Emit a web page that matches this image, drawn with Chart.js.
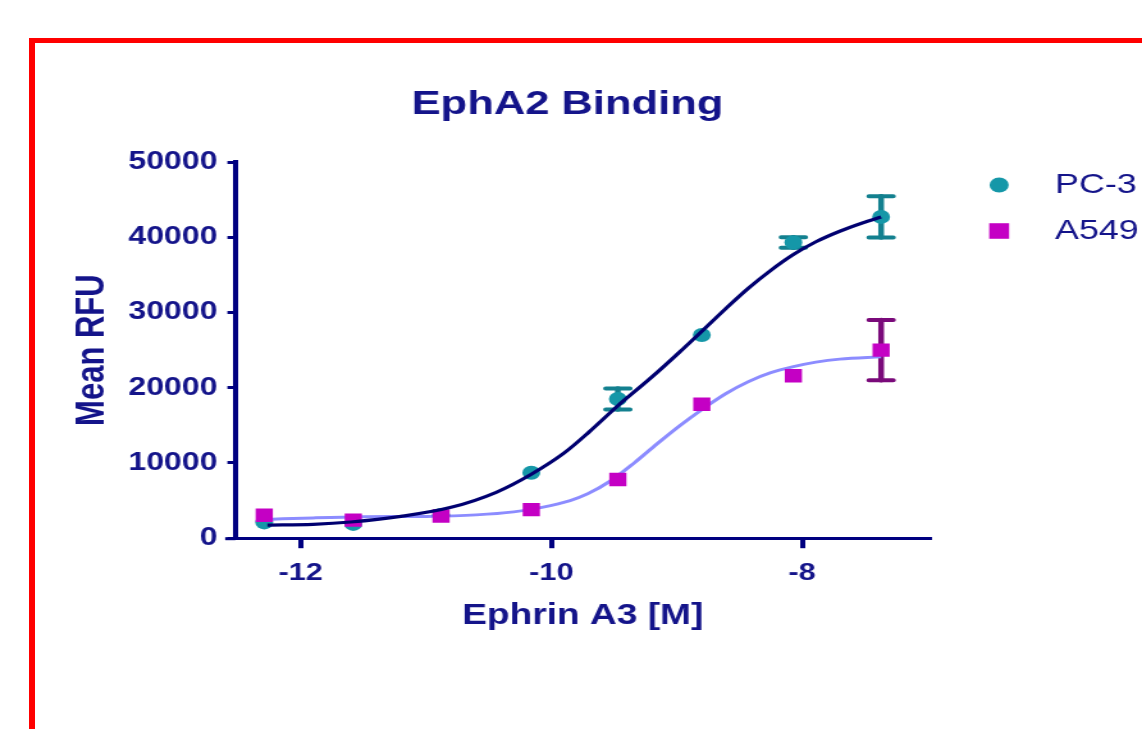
<!DOCTYPE html>
<html>
<head>
<meta charset="utf-8">
<script src="https://cdn.jsdelivr.net/npm/chart.js@4/dist/chart.umd.min.js"></script>
<style>
html,body{margin:0;padding:0;background:#fff;overflow:hidden;width:1142px;height:729px;}
#wrap{position:absolute;left:0;top:0;width:892px;height:729px;transform:scaleX(1.2803);transform-origin:0 0;}
#frame{position:absolute;left:29px;top:38px;width:2000px;height:2000px;border-left:6px solid #ff0000;border-top:5px solid #ff0000;pointer-events:none;}
</style>
</head>
<body>
<div id="wrap"><canvas id="c"></canvas></div>
<div id="frame"></div>
<script>
// ---- data ----
const doseLog   = [-12.29, -11.58, -10.88, -10.16, -9.47, -8.80, -8.07, -7.37];
const pc3Mean   = [2100, 1900, 3100, 8700, 18500, 27000, 39300, 42700];
const pc3Err    = [0, 0, 0, 0, 1400, 0, 700, 2750];
const a549Mean  = [3050, 2400, 2950, 3800, 7800, 17800, 21600, 25000];
const a549Err   = [0, 0, 0, 0, 0, 0, 0, 4000];

const pc3FitX   = [-12.265, -11.9, -11.6, -11.2, -10.8, -10.44, -10.16, -9.9, -9.7, -9.47, -9.2, -8.98, -8.8, -8.61, -8.43, -8.25, -8.07, -7.89, -7.7, -7.52, -7.37];
const pc3FitY   = [1750, 1850, 2150, 2900, 4100, 6100, 8500, 11300, 14100, 17600, 21400, 24700, 27500, 30500, 33200, 35600, 37700, 39400, 40800, 41900, 42700];
const a549FitX  = [-12.265, -11.9, -11.5, -11.0, -10.6, -10.3, -10.075, -9.85, -9.71, -9.53, -9.34, -9.16, -8.98, -8.8, -8.61, -8.43, -8.25, -8.07, -7.89, -7.7, -7.37];
const a549FitY  = [2500, 2700, 2850, 2900, 3100, 3500, 4100, 5000, 5900, 7600, 10000, 12500, 14900, 17100, 19200, 20800, 22000, 22800, 23400, 23800, 24100];

const xTicks = [-12, -10, -8];
const yTicks = [0, 10000, 20000, 30000, 40000, 50000];
const seriesNames = ['PC-3', 'A549'];
const chartTitle = 'EphA2 Binding';
const xTitle = 'Ephrin A3 [M]';
const yTitle = 'Mean RFU';

// ---- styles ----
const FONT = "'Liberation Sans', Arial, Helvetica, sans-serif";
const TXT = '#14148a';
const AXIS = '#000080';
const PC3_COL = '#1597a8';
const PC3_ERR = '#13808f';
const A549_COL = '#c400c4';
const A549_ERR = '#7a0a7a';

const toXY = (xs, ys) => xs.map((x, i) => ({x: x, y: ys[i]}));

const errorBars = {
  id: 'errorBars',
  beforeDatasetsDraw(chart) {
    const {ctx} = chart;
    const x = chart.scales.x, y = chart.scales.y;
    const sets = [
      {mean: pc3Mean, err: pc3Err, color: PC3_ERR},
      {mean: a549Mean, err: a549Err, color: A549_ERR}
    ];
    ctx.save();
    ctx.lineCap = 'round';
    sets.forEach(s => {
      ctx.strokeStyle = s.color;
      s.mean.forEach((m, i) => {
        const e = s.err[i];
        if (!e) return;
        const px = x.getPixelForValue(doseLog[i]);
        const top = y.getPixelForValue(m + e);
        const bot = y.getPixelForValue(m - e);
        ctx.lineWidth = 4.5;
        ctx.beginPath();
        ctx.moveTo(px, top); ctx.lineTo(px, bot);
        ctx.stroke();
        ctx.lineWidth = 4;
        ctx.beginPath();
        ctx.moveTo(px - 9.5, top); ctx.lineTo(px + 9.5, top);
        ctx.moveTo(px - 9.5, bot); ctx.lineTo(px + 9.5, bot);
        ctx.stroke();
      });
    });
    ctx.restore();
  }
};

const extras = {
  id: 'extras',
  afterDraw(chart) {
    const {ctx, chartArea} = chart;
    ctx.save();
    // small extension of the x axis line to the left of the y axis
    ctx.strokeStyle = AXIS;
    ctx.lineWidth = 3;
    ctx.beginPath();
    ctx.moveTo(chartArea.left - 8, chartArea.bottom + 0.5);
    ctx.lineTo(chartArea.left, chartArea.bottom + 0.5);
    ctx.stroke();
    // chart title
    ctx.fillStyle = TXT;
    ctx.font = 'bold 34px ' + FONT;
    ctx.textAlign = 'center';
    ctx.textBaseline = 'middle';
    ctx.fillText(chartTitle, chartArea.left + 259.4, chartArea.top - 57.5);
    // legend
    const items = [
      {text: seriesNames[0], style: 'circle', r: 7.5, color: PC3_COL, dy: 23},
      {text: seriesNames[1], style: 'rect', r: 11, color: A549_COL, dy: 69}
    ];
    ctx.font = '28px ' + FONT;
    ctx.textAlign = 'left';
    items.forEach(it => {
      const cy = chartArea.top + it.dy;
      ctx.fillStyle = it.color;
      Chart.helpers.drawPoint(ctx, {pointStyle: it.style, radius: it.r, rotation: 0, borderWidth: 0}, chartArea.right + 54, cy);
      ctx.fillStyle = TXT;
      ctx.fillText(it.text, chartArea.right + 97.6, cy);
    });
    ctx.restore();
  }
};

new Chart(document.getElementById('c'), {
  type: 'scatter',
  data: {
    datasets: [
      {label: seriesNames[0] + ' fit', data: toXY(pc3FitX, pc3FitY), showLine: true, borderColor: '#000070', borderWidth: 3.2,
       pointRadius: 0, cubicInterpolationMode: 'monotone', fill: false, order: 0},
      {label: seriesNames[1], data: toXY(doseLog, a549Mean), pointStyle: 'rect', pointRadius: 9.5, pointHoverRadius: 9.5,
       backgroundColor: A549_COL, borderWidth: 0, order: 1},
      {label: seriesNames[0], data: toXY(doseLog, pc3Mean), pointStyle: 'circle', pointRadius: 7, pointHoverRadius: 7,
       backgroundColor: PC3_COL, borderWidth: 0, order: 2},
      {label: seriesNames[1] + ' fit', data: toXY(a549FitX, a549FitY), showLine: true, borderColor: '#8c8cff', borderWidth: 3,
       pointRadius: 0, cubicInterpolationMode: 'monotone', fill: false, order: 3}
    ]
  },
  options: {
    responsive: true,
    maintainAspectRatio: false,
    animation: false,
    events: [],
    layout: {padding: {left: 15.8, right: 165.6, top: 162, bottom: 96}},
    plugins: {
      legend: {display: false},
      tooltip: {enabled: false},
      title: {display: false}
    },
    scales: {
      x: {
        type: 'linear', position: 'bottom', min: -12.52, max: -6.98,
        afterBuildTicks: s => { s.ticks = xTicks.map(v => ({value: v})); },
        grid: {display: true, drawOnChartArea: false, drawTicks: true, tickLength: 10, color: AXIS, lineWidth: 4},
        border: {display: true, color: AXIS, width: 3},
        ticks: {color: TXT, font: {family: FONT, size: 24, weight: 'bold'}, padding: 10.6, maxRotation: 0,
                callback: v => String(v)},
        title: {display: true, text: xTitle, color: TXT, font: {family: FONT, size: 29, weight: 'bold'},
                padding: {top: 0, bottom: 0}}
      },
      y: {
        type: 'linear', position: 'left', min: 0, max: 50000,
        afterBuildTicks: s => { s.ticks = yTicks.map(v => ({value: v})); },
        grid: {display: true, drawOnChartArea: false, drawTicks: true, tickLength: 6.25, color: AXIS, lineWidth: 3},
        border: {display: true, color: AXIS, width: 4},
        ticks: {color: TXT, font: {family: FONT, size: 25, weight: 'bold'}, padding: 7.8,
                callback: v => String(v)},
        title: {display: true, text: yTitle, color: TXT, font: {family: FONT, size: 31, weight: 'bold'},
                padding: {top: 38.3, bottom: 1.2}}
      }
    }
  },
  plugins: [errorBars, extras]
});
</script>
</body>
</html>
